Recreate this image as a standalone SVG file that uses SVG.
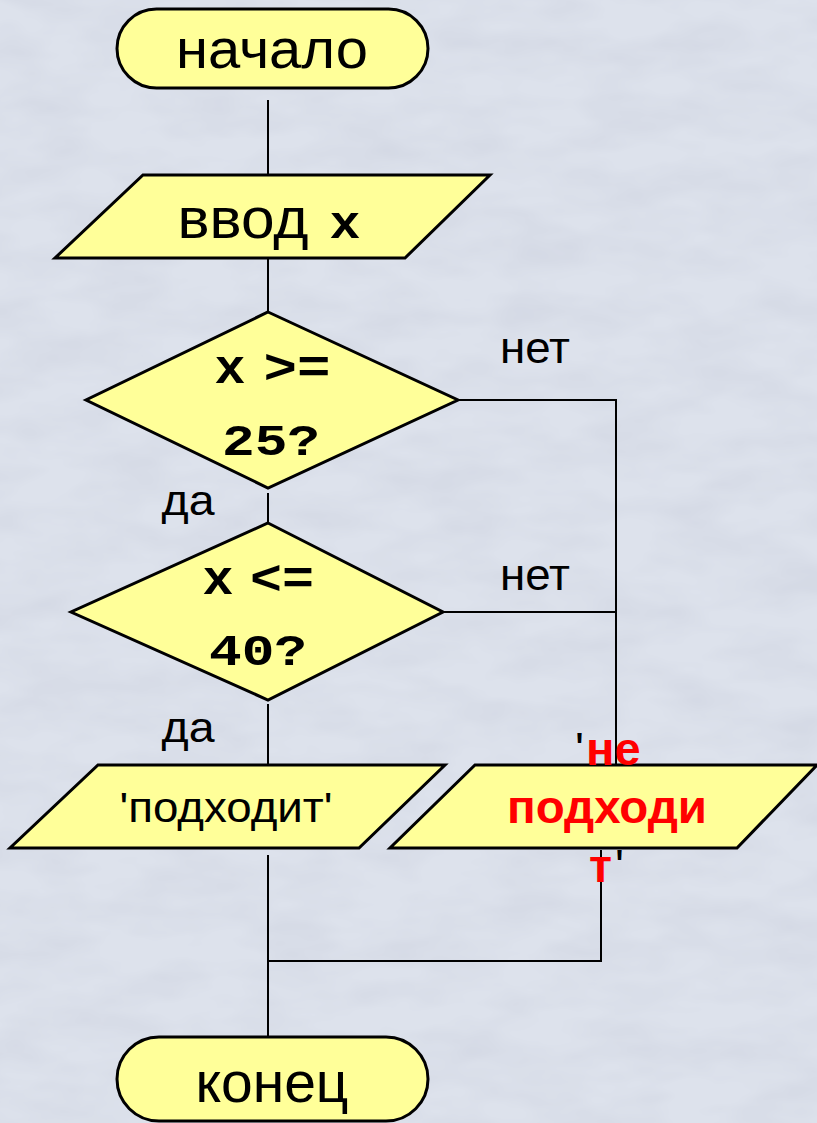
<svg xmlns="http://www.w3.org/2000/svg" width="817" height="1123" viewBox="0 0 817 1123">
  <defs>
    <filter id="tex" x="0" y="0" width="100%" height="100%">
      <feTurbulence type="fractalNoise" baseFrequency="0.012 0.03" numOctaves="3" seed="7" result="n"/>
      <feColorMatrix type="matrix" values="0 0 0 0 0.55  0 0 0 0 0.58  0 0 0 0 0.68  0 0 0 0.6 -0.2" in="n"/>
    </filter>
    <style>
      .shape { fill: #ffff99; stroke: #000; stroke-width: 3; stroke-linejoin: miter; }
      .conn { fill: none; stroke: #000; stroke-width: 2; }
      .sans { font-family: "Liberation Sans", Arial, sans-serif; fill: #000; }
      .mono { font-family: "Liberation Mono", "Courier New", monospace; font-weight: bold; fill: #000; }
      .red { font-family: "Liberation Sans", Arial, sans-serif; font-weight: bold; fill: #ff0000; }
    </style>
  </defs>

  <rect x="0" y="0" width="817" height="1123" fill="#dde2ec"/>
  <rect x="0" y="0" width="817" height="1123" filter="url(#tex)"/>

  <g id="connectors">
    <line class="conn" x1="268" y1="100" x2="268" y2="175"/>
    <line class="conn" x1="268" y1="252" x2="268" y2="312"/>
    <line class="conn" x1="268" y1="493" x2="268" y2="523"/>
    <line class="conn" x1="268" y1="704" x2="268" y2="765"/>
    <polyline class="conn" points="458,400 616,400 616,765"/>
    <line class="conn" x1="443" y1="612" x2="616" y2="612"/>
    <line class="conn" x1="268" y1="855" x2="268" y2="1037"/>
    <polyline class="conn" points="601,850 601,961 268,961"/>
  </g>

  <g id="start">
    <rect class="shape" x="117" y="9" width="311" height="79" rx="39.5" ry="39.5"/>
    <text class="sans" x="272" y="68" font-size="56" text-anchor="middle" textLength="192" lengthAdjust="spacingAndGlyphs">начало</text>
  </g>

  <g id="input">
    <polygon class="shape" points="143,175 490,175 405,258 55,258"/>
    <text class="sans" x="243" y="238" font-size="58" text-anchor="middle" textLength="131" lengthAdjust="spacingAndGlyphs">ввод</text>
    <text class="mono" x="345" y="238" font-size="46" text-anchor="middle" textLength="31" lengthAdjust="spacingAndGlyphs">x</text>
  </g>

  <g id="cond1">
    <polygon class="shape" points="268,312 458,400 268,488 86,400"/>
    <text class="mono" x="230" y="383" font-size="48" text-anchor="middle" textLength="31" lengthAdjust="spacingAndGlyphs">x</text>
    <text class="mono" x="297" y="383" font-size="48" text-anchor="middle" textLength="67" lengthAdjust="spacingAndGlyphs">&gt;=</text>
    <text class="mono" x="271" y="455" font-size="44" text-anchor="middle" textLength="98" lengthAdjust="spacingAndGlyphs">25?</text>
  </g>
  <text class="sans" x="535" y="363" font-size="45" text-anchor="middle" textLength="70" lengthAdjust="spacingAndGlyphs">нет</text>
  <text class="sans" x="188" y="515" font-size="43" text-anchor="middle" textLength="53" lengthAdjust="spacingAndGlyphs">да</text>

  <g id="cond2">
    <polygon class="shape" points="268,523 443,612 268,700 71,612"/>
    <text class="mono" x="218" y="594" font-size="48" text-anchor="middle" textLength="31" lengthAdjust="spacingAndGlyphs">x</text>
    <text class="mono" x="282" y="594" font-size="48" text-anchor="middle" textLength="64" lengthAdjust="spacingAndGlyphs">&lt;=</text>
    <text class="mono" x="258" y="665" font-size="44" text-anchor="middle" textLength="98" lengthAdjust="spacingAndGlyphs">40?</text>
  </g>
  <text class="sans" x="535" y="590" font-size="45" text-anchor="middle" textLength="70" lengthAdjust="spacingAndGlyphs">нет</text>
  <text class="sans" x="188" y="742" font-size="43" text-anchor="middle" textLength="53" lengthAdjust="spacingAndGlyphs">да</text>

  <g id="out-yes">
    <polygon class="shape" points="98,765 445,765 359,848 10,848"/>
    <text class="sans" x="226" y="822" font-size="43" text-anchor="middle" textLength="213" lengthAdjust="spacingAndGlyphs">'подходит'</text>
  </g>

  <g id="out-no">
    <polygon class="shape" points="475,765 817,765 737,848 390,848"/>
    <text class="red" x="575" y="765" font-size="47"><tspan fill="#000" font-weight="normal">'</tspan><tspan x="586">не</tspan></text>
    <text class="red" x="607" y="823" font-size="47" text-anchor="middle" textLength="200" lengthAdjust="spacingAndGlyphs">подходи</text>
    <text class="red" x="589" y="882" font-size="47">т<tspan fill="#000" font-weight="normal" x="615">'</tspan></text>
  </g>

  <g id="end">
    <rect class="shape" x="117" y="1037" width="311" height="84" rx="42" ry="42"/>
    <text class="sans" x="272" y="1102" font-size="58" text-anchor="middle" textLength="153" lengthAdjust="spacingAndGlyphs">конец</text>
  </g>
</svg>
